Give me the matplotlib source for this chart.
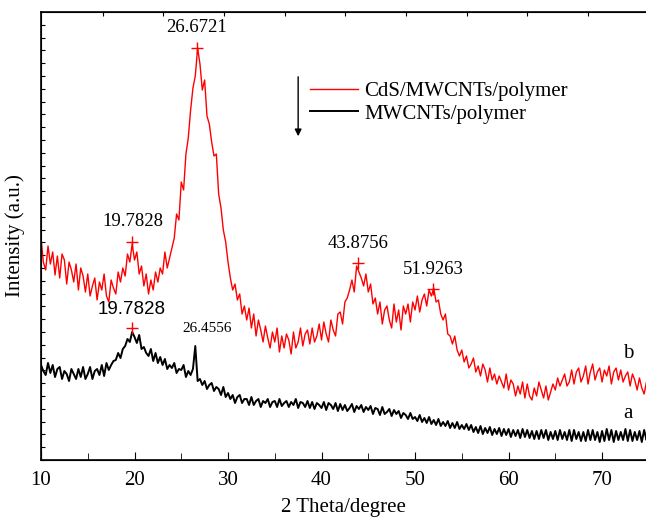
import numpy as np
import matplotlib
matplotlib.use("Agg")
import matplotlib.pyplot as plt

plt.rcParams['font.family'] = ['Liberation Serif', 'DejaVu Serif']

# 2 theta grid, 0.25 degree step from 10 to 75
theta = np.arange(261) * 0.25 + 10

# curve b: CdS/MWCNTs/polymer (arbitrary units)
int_b = [
    222, 198, 190, 214,  196, 208, 185, 204,  182, 206, 200, 176,  198, 190, 178, 196,
    170, 192, 184, 168,  186, 164, 174, 182,  160, 178, 170, 186,  164, 158, 180, 172,
    166, 188, 178, 192,  184, 206, 198, 216,  200, 208, 186, 194,  174, 186, 166, 180,
    170, 188, 178, 192,  186, 208, 192, 202,  212, 222, 246, 240,  278, 270, 306, 322,
    350, 372, 384, 412,  396, 370, 380, 344,  336, 318, 304, 306,  266, 252, 230, 218,
    198, 182, 170, 176,  160, 166, 146, 154,  140, 152, 132, 146,  124, 140, 130, 118,
    134, 122, 112, 128,  118, 132, 108, 124,  112, 126, 120, 106,  128, 112, 118, 132,
    114, 126, 130, 116,  132, 118, 124, 136,  120, 138, 126, 118,  140, 130, 124, 146,
    148, 136, 158, 162,  170, 180, 168, 194,  188, 182, 174, 186,  168, 176, 156, 162,
    146, 158, 136, 150,  154, 140, 132, 156,  138, 150, 130, 154,  146, 156, 138, 158,
    150, 164, 148, 160,  166, 154, 170, 164,  172, 158, 160, 146,  140, 146, 126, 124,
    116, 124, 110, 104,  110, 98, 104, 92,    96, 102, 88, 94,     84, 96, 90, 78,
    92, 80, 86, 76,      84, 78, 72, 86,      70, 80, 76, 64,      74, 66, 78, 62,
    76, 64, 60, 72,      64, 78, 70, 62,      74, 60, 68, 76,      70, 82, 74, 80,
    86, 74, 78, 90,      76, 88, 92, 78,      84, 94, 76, 88,      96, 80, 88, 92,
    78, 90, 84, 94,      76, 88, 92, 80,      90, 78, 84, 88,      74, 86, 80, 70,
    82, 72, 66, 78,      72,
]

# curve a: MWCNTs/polymer
int_a = [
    95, 89, 85, 97,   87, 95, 83, 91,   93, 81, 89, 86,   79, 91, 86, 81,
    91, 83, 93, 81,   86, 93, 81, 89,   91, 85, 95, 84,   97, 90, 95, 99,
    100, 107, 102, 111, 114, 121, 118, 128, 123, 117, 125, 111, 113, 107, 104, 111,
    99, 107, 97, 103, 95, 101, 91, 95, 92, 97, 87, 91,  90, 95, 83, 89,
    85, 91, 114, 79,  81, 75, 79, 71,   75, 77, 69, 73,   71, 65, 73, 63,
    67, 61, 65, 57,   63, 65, 57, 61,   61, 55, 63, 55,   59, 61, 53, 59,
    57, 61, 53, 58,   59, 53, 61, 54,   57, 59, 53, 58,   55, 61, 52, 58,
    57, 53, 59, 52,   58, 51, 57, 55,   52, 58, 50, 57,   55, 51, 57, 49,
    56, 50, 55, 49,   52, 56, 48, 54,   51, 55, 48, 53,   50, 54, 46, 52,
    51, 45, 53, 46,   48, 51, 44, 50,   46, 49, 42, 47,   45, 41, 47, 41,
    43, 39, 45, 38,   42, 37, 43, 36,   40, 35, 41, 34,   38, 34, 39, 32,
    37, 32, 38, 31,   35, 31, 36, 30,   35, 28, 33, 27,   34, 26, 32, 27,
    33, 25, 31, 26,   32, 24, 31, 25,   31, 23, 30, 24,   30, 22, 31, 23,
    30, 22, 29, 21,   29, 21, 30, 22,   30, 20, 28, 21,   29, 20, 30, 21,
    28, 20, 30, 19,   30, 21, 28, 19,   28, 19, 30, 20,   30, 20, 28, 18,
    29, 19, 31, 20,   30, 18, 29, 20,   28, 20, 31, 19,   30, 19, 28, 20,
    29, 18, 30, 20,   25,
]

# marked peaks
peaks_b_x = [19.7828, 26.6721, 43.8756, 51.9263]
peaks_b_y = [218, 412, 197, 171]
peak_a_x = 19.7828
peak_a_y = 132

fig = plt.figure(figsize=(6.46, 5.18), dpi=100)
ax = fig.add_axes([41 / 646, 58 / 518, 605 / 646, 448 / 518])

ax.plot(theta, int_b, color='red', lw=1.0, label='CdS/MWCNTs/polymer')
ax.plot(theta, int_a, color='black', lw=1.4, label='MWCNTs/polymer')

ax.plot(peaks_b_x, peaks_b_y, '+', color='red', ms=8, mew=1)
ax.plot([peak_a_x], [peak_a_y], '+', color='red', ms=8, mew=1)

# peak labels
ax.text(26.67, 432, '26.6721', ha='center', va='center', fontsize=13.5)
ax.text(19.78, 238, '19.7828', ha='center', va='center', fontsize=13.5)
ax.text(43.88, 216, '43.8756', ha='center', va='center', fontsize=13.5)
ax.text(51.93, 191, '51.9263', ha='center', va='center', fontsize=13.5)
ax.text(19.7, 151, '19.7828', ha='center', va='center', fontsize=13.5,
        family=['Liberation Sans', 'DejaVu Sans'])
ax.text(27.75, 131, '26.4556', ha='center', va='center', fontsize=11)

ax.text(72.8, 107, 'b', ha='center', va='center', fontsize=15)
ax.text(72.8, 47, 'a', ha='center', va='center', fontsize=15)

ax.annotate('', xy=(37.5, 321), xytext=(37.5, 386),
            arrowprops=dict(arrowstyle='-|>', color='black', lw=1, mutation_scale=10))

ax.legend(loc='upper left', bbox_to_anchor=(0.445, 0.845), frameon=False,
          fontsize=15, handlelength=2.3, handletextpad=0.3, labelspacing=0.15,
          borderpad=0, borderaxespad=0)

ax.set_xlim(10, 74.7)
ax.set_ylim(0, 448)
ax.set_xticks([10, 20, 30, 40, 50, 60, 70])
ax.set_xticks([15, 25, 35, 45, 55, 65], minor=True)
ax.set_yticks(np.arange(0, 448, 12.8))
ax.set_yticklabels([])
ax.tick_params(axis='x', which='major', direction='in', length=6, labelsize=15, pad=8)
ax.tick_params(axis='x', which='minor', direction='in', length=5)
ax.tick_params(axis='y', direction='in', length=3)
ax.spines['right'].set_visible(False)
for s in ax.spines.values():
    s.set_linewidth(1.2)

top = ax.twiny()
top.set_xlim(ax.get_xlim())
top.set_xticks([16.6, 23.1, 29.6, 36.1, 42.5, 49.0, 55.6, 62.0, 68.5])
top.set_xticklabels([])
top.tick_params(axis='x', direction='in', length=3)
top.spines['right'].set_visible(False)

ax.set_xlabel('2 Theta/degree', fontsize=15, labelpad=6)
ax.set_ylabel('Intensity (a.u.)', fontsize=15, labelpad=8)

fig.savefig('out.png', dpi=100)
